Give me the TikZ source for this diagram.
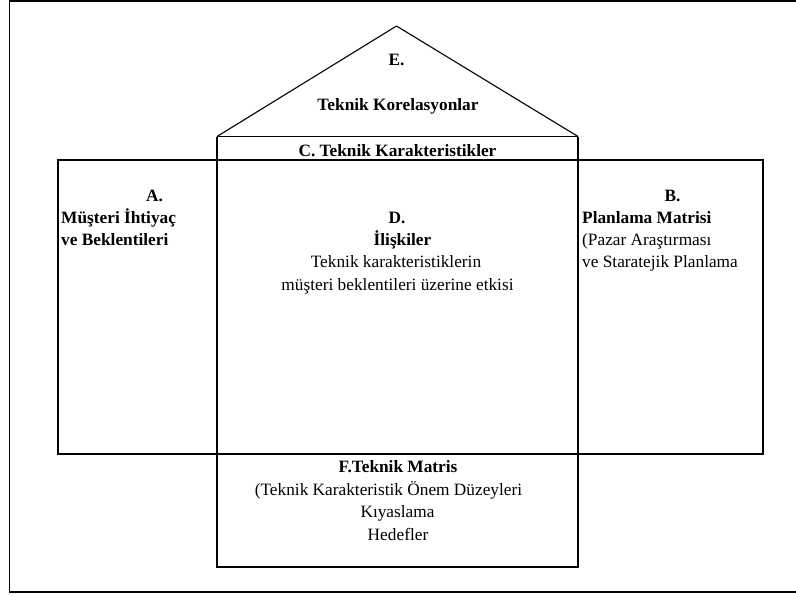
\documentclass[tikz,border=0pt]{standalone}
\usepackage{fontspec}
\setmainfont{Liberation Serif}
\begin{document}
\begin{tikzpicture}[x=1pt,y=-1pt,
  txt/.style={inner sep=0pt,font=\fontsize{17.3}{21}\selectfont},
  btxt/.style={inner sep=0pt,font=\fontsize{17.3}{21}\selectfont\bfseries},
  thickline/.style={line width=2.2pt},
  thinline/.style={line width=1.1pt},
  frameline/.style={line width=1.4pt}]
\useasboundingbox (0,0) rectangle (796,595);
% outer frame (right side off the page)
\coordinate (ftr) at (830,0.8);
\coordinate (ftl) at (9.5,0.8);
\coordinate (fbl) at (9.5,592);
\coordinate (fbr) at (830,592);
\draw[frameline] (ftr) -- (ftl) -- (fbl) -- (fbr);
% roof
\coordinate (apex) at (396.5,26);
\coordinate (rl) at (217,136.5);
\coordinate (rr) at (578,136.5);
\draw[thinline,line join=miter] (rl) -- (apex) -- (rr);
% C box top
\draw[line width=1.5pt] (rl) -- (rr);
% main wide rectangle
\coordinate (mtl) at (58,160.3);
\coordinate (mbr) at (763,453.7);
\draw[thickline] (mtl) rectangle (mbr);
% central column
\coordinate (cbl) at (217,567);
\coordinate (cbr) at (578,567);
\draw[thickline] (rl) -- (cbl) -- (cbr) -- (rr);
% E
\node[btxt,anchor=base] (e1) at (396.5,65) {E.};
\node[btxt,anchor=base] (e2) at (398,110) {Teknik Korelasyonlar};
% C
\node[btxt,anchor=base] (c1) at (397.5,156) {C. Teknik Karakteristikler};
% A
\node[btxt,anchor=base] (a1) at (154.5,201) {A.};
\node[btxt,anchor=base west] (a2) at (61,223) {Müşteri İhtiyaç};
\node[btxt,anchor=base west] (a3) at (61,245.5) {ve Beklentileri};
% D
\node[btxt,anchor=base] (d1) at (397,223) {D.};
\node[btxt,anchor=base] (d2) at (402.5,245.5) {İlişkiler};
\node[txt,anchor=base] (d3) at (396,267.5) {Teknik karakteristiklerin};
\node[txt,anchor=base] (d4) at (397.5,290) {müşteri beklentileri üzerine etkisi};
% B
\node[btxt,anchor=base] (b1) at (672.5,201) {B.};
\node[btxt,anchor=base west] (b2) at (582,223) {Planlama Matrisi};
\node[txt,anchor=base west] (b3) at (582,245.5) {(Pazar Araştırması};
\node[txt,anchor=base west] (b4) at (582,267.5) {ve Staratejik Planlama};
% F
\node[btxt,anchor=base] (f1) at (398,472.5) {F.Teknik Matris};
\node[txt,anchor=base] (f2) at (388.5,495) {(Teknik Karakteristik Önem Düzeyleri};
\node[txt,anchor=base] (f3) at (397.5,517.5) {Kıyaslama};
\node[txt,anchor=base] (f4) at (398,540) {Hedefler};
\end{tikzpicture}
\end{document}
